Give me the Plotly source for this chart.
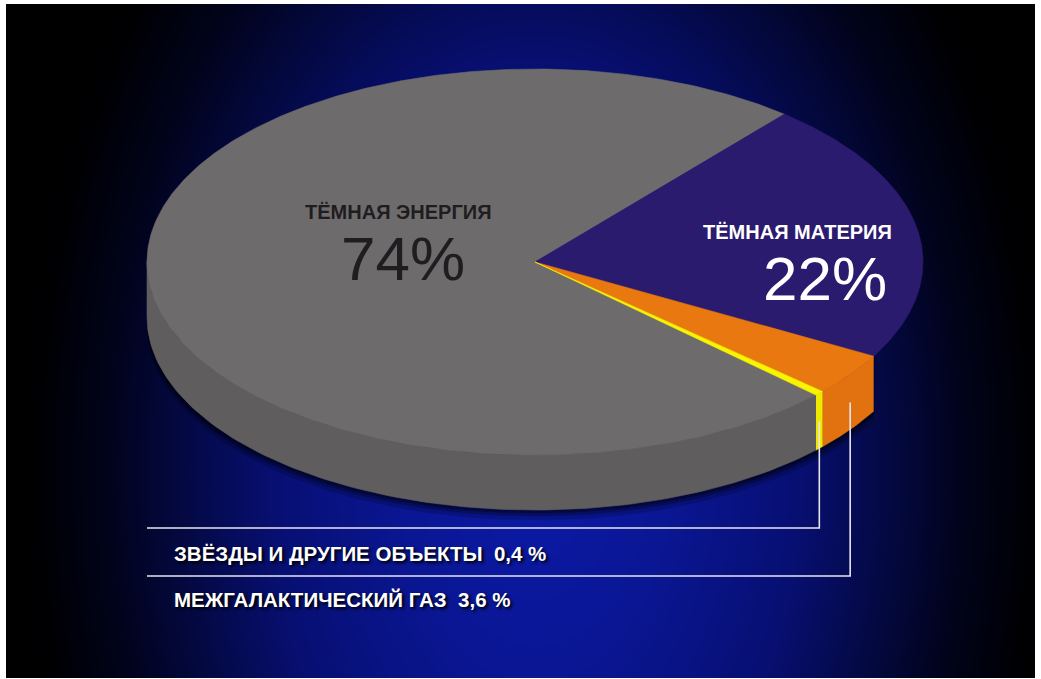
import numpy as np
import plotly.graph_objects as go

# ---- data -------------------------------------------------------------
categories = ["ТЁМНАЯ МАТЕРИЯ", "МЕЖГАЛАКТИЧЕСКИЙ ГАЗ",
              "ЗВЁЗДЫ И ДРУГИЕ ОБЪЕКТЫ", "ТЁМНАЯ ЭНЕРГИЯ"]
values = [22.0, 3.6, 0.4, 74.0]
value_labels = ["22%", "3,6 %", "0,4 %", "74%"]

# ---- styling ----------------------------------------------------------
W, H = 1041, 679
CX, CY = 535.0, 262.0        # centre of the top ellipse (px)
RX, RY = 388.0, 193.0        # ellipse radii
DEPTH = 55.0                 # thickness of the disc
START_DEG = 50.0             # first slice starts here, slices run clockwise
FONT = "Liberation Sans, Arial, sans-serif"

top_colors = ["#2b1b6f", "#e8780f", "#fbf400", "#6e6b6d"]
side_colors = [None, "#e27210", "#f0e800", "#605d5f"]

# slice boundaries (degrees) from the values
bounds = START_DEG - np.concatenate([[0], np.cumsum(values)]) / 100.0 * 360.0


def ell(theta_deg, dy=0.0):
    t = np.radians(theta_deg)
    return CX + RX * np.cos(t), CY - RY * np.sin(t) + dy


fig = go.Figure()

# ---- background gradient ---------------------------------------------
gx = np.linspace(6, W - 6, 140)
gy = np.linspace(4, H - 1, 90)
XX, YY = np.meshgrid(gx, gy)
rr = np.sqrt(((XX - 535) / 455.0) ** 2 + ((YY - 470) / 700.0) ** 2)
fig.add_trace(go.Heatmap(
    x=gx, y=gy, z=rr, zsmooth="best", showscale=False, hoverinfo="skip",
    zmin=0, zmax=1.15,
    colorscale=[[0.0, "#0c1aa8"], [0.26, "#0a1692"], [0.5, "#070f72"],
                [0.72, "#030736"], [0.82, "#01031a"], [0.95, "#000003"],
                [1.0, "#000000"]],
))


def poly(xs, ys, color, opacity=1.0):
    fig.add_trace(go.Scatter(
        x=xs, y=ys, mode="lines", fill="toself", fillcolor=color,
        line=dict(color=color, width=0.6), opacity=opacity,
        hoverinfo="skip", showlegend=False))


# ---- drop shadow under the disc (only where a side face exists) --------
th = np.linspace(-180, bounds[1], 200)
for off, op in [(10, 0.18), (6, 0.25), (3, 0.35)]:
    bx, by = ell(th, DEPTH + off)
    tx, ty = ell(th[::-1], 0)
    poly(np.concatenate([bx, tx]), np.concatenate([by, ty]), "#000000", op)

# ---- side faces (front half only) ---------------------------------------
for i in range(len(values)):
    if side_colors[i] is None:
        continue
    a0, a1 = bounds[i], bounds[i + 1]          # a0 > a1 (clockwise)
    lo, hi = max(a1, -180.0), min(a0, 0.0)
    if lo >= hi:
        continue
    th = np.linspace(hi, lo, 120)
    tx, ty = ell(th)
    bx, by = ell(th[::-1], DEPTH)
    poly(np.concatenate([tx, bx]), np.concatenate([ty, by]), side_colors[i])

# ---- top faces -----------------------------------------------------------
for i in [3, 0, 1, 2]:
    a0, a1 = bounds[i], bounds[i + 1]
    n = max(8, int(abs(a0 - a1) * 2))
    th = np.linspace(a0, a1, n)
    tx, ty = ell(th)
    poly(np.concatenate([[CX], tx, [CX]]), np.concatenate([[CY], ty, [CY]]),
         top_colors[i])

# ---- leader lines for the two thin slices --------------------------------
line_y = {2: 528, 1: 576}
for i in [2, 1]:
    mid = (bounds[i] + bounds[i + 1]) / 2.0
    mx, my = ell(mid, 28)
    fig.add_trace(go.Scatter(
        x=[mx, mx, 147], y=[my, line_y[i], line_y[i]], mode="lines",
        line=dict(color="#e6e6ee", width=1.6), hoverinfo="skip",
        showlegend=False))

# ---- labels ---------------------------------------------------------------
ann = []
ann.append(dict(x=398, y=212, text="<b>" + categories[3] + "</b>",
                font=dict(family=FONT, size=20, color="#1f1d1f")))
ann.append(dict(x=403, y=258, text=value_labels[3],
                font=dict(family=FONT, size=62, color="#1f1d1f")))
ann.append(dict(x=797, y=232, text="<b>" + categories[0] + "</b>",
                font=dict(family=FONT, size=20, color="#ffffff")))
ann.append(dict(x=825, y=278, text=value_labels[0],
                font=dict(family=FONT, size=62, color="#ffffff")))
ann.append(dict(x=172, y=553, xanchor="left",
                text="<b>" + categories[2] + "  " + value_labels[2] + "</b>",
                font=dict(family=FONT, size=20.5, color="#ffffff",
                          shadow="2px 2px 3px #000000")))
ann.append(dict(x=172, y=599, xanchor="left",
                text="<b>" + categories[1] + "  " + value_labels[1] + "</b>",
                font=dict(family=FONT, size=20.5, color="#ffffff",
                          shadow="2px 2px 3px #000000")))
for a in ann:
    a.update(xref="x", yref="y", showarrow=False)
    a.setdefault("xanchor", "center")
    a.setdefault("yanchor", "middle")

fig.update_layout(
    width=W, height=H,
    margin=dict(l=6, r=6, t=4, b=1),
    paper_bgcolor="#ffffff", plot_bgcolor="#000000",
    xaxis=dict(range=[6, W - 6], visible=False, fixedrange=True),
    yaxis=dict(range=[H - 1, 4], visible=False, fixedrange=True),
    annotations=ann, showlegend=False,
)

fig.write_html("out.html")
